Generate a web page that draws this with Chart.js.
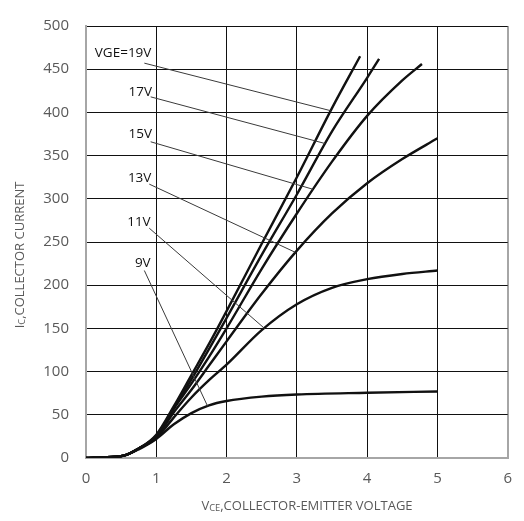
<!DOCTYPE html>
<html>
<head>
<meta charset="utf-8">
<script src="https://cdn.jsdelivr.net/npm/chart.js@4/dist/chart.umd.min.js"></script>
<style>
  html, body { margin: 0; padding: 0; background: #fff; }
  #wrap { width: 524px; height: 521px; }
</style>
</head>
<body>
<div id="wrap"><canvas id="icChart" width="524" height="521"></canvas></div>
<script>
// output characteristics, Ic (A) vs Vce (V), one curve per gate voltage
const gateLabels = ['VGE=19V', '17V', '15V', '13V', '11V', '9V'];

const vce19 = [0, 0.3, 0.55, 0.75, 1.0, 1.25, 1.5, 1.75, 2.0, 2.5, 3.0, 3.5, 3.9];
const ic19  = [0, 1, 3, 11, 27, 60, 96, 132, 170, 248, 325, 405, 465];

const vce17 = [0, 0.3, 0.55, 0.75, 1.0, 1.25, 1.5, 1.75, 2.0, 2.5, 3.0, 3.5, 4.0, 4.17];
const ic17  = [0, 1, 3, 11, 26, 58, 91, 126, 162, 235, 305, 378, 440, 462];

const vce15 = [0, 0.3, 0.55, 0.75, 1.0, 1.25, 1.5, 1.75, 2.0, 2.5, 3.0, 3.5, 4.0, 4.5, 4.78];
const ic15  = [0, 1, 3, 11, 25, 57, 86, 117, 150, 219, 283, 343, 396, 437, 456];

const vce13 = [0, 0.3, 0.55, 0.75, 1.0, 1.25, 1.5, 1.75, 2.0, 2.5, 3.0, 3.5, 4.0, 4.5, 5.0];
const ic13  = [0, 1, 3, 11, 24, 53, 79, 107, 135, 190, 240, 283, 318, 346, 370];

const vce11 = [0, 0.3, 0.55, 0.75, 1.0, 1.25, 1.5, 1.75, 2.0, 2.5, 3.0, 3.5, 4.0, 4.5, 5.0];
const ic11  = [0, 1, 3, 11, 23, 47, 70, 90, 108, 148, 178, 197, 207, 213, 217];

const vce9 = [0, 0.3, 0.55, 0.75, 1.0, 1.25, 1.5, 1.75, 2.0, 2.5, 3.0, 4.0, 5.0];
const ic9  = [0, 1, 3, 10, 22, 39, 52, 61, 66, 71, 73.5, 75.5, 77];

// label anchors (right edge of text) and leader lines: [x0, y0, x1, y1]
const labelX = [0.93, 0.94, 0.94, 0.93, 0.92, 0.92];
const labelY = [468, 424, 375, 324, 273, 226];
const leaders = [
  [0.83, 457, 3.48, 402],
  [0.92, 418, 3.40, 364],
  [0.92, 366, 3.23, 311],
  [0.90, 317, 2.98, 238],
  [0.90, 266, 2.54, 150],
  [0.83, 217, 1.73, 60]
];

const xTicks = [0, 1, 2, 3, 4, 5, 6];
const yTicks = [0, 50, 100, 150, 200, 250, 300, 350, 400, 450, 500];

function pts(xs, ys) {
  return xs.map((x, i) => ({ x: x, y: ys[i] }));
}

const curves = [
  pts(vce19, ic19), pts(vce17, ic17), pts(vce15, ic15),
  pts(vce13, ic13), pts(vce11, ic11), pts(vce9, ic9)
];

const datasets = [];
leaders.forEach(l => {
  datasets.push({
    data: [{ x: l[0], y: l[1] }, { x: l[2], y: l[3] }],
    borderColor: '#3a3a3a',
    borderWidth: 1,
    pointRadius: 0,
    tension: 0
  });
});
curves.forEach(c => {
  datasets.push({
    data: c,
    borderColor: '#111',
    borderWidth: 2.4,
    pointRadius: 0,
    cubicInterpolationMode: 'monotone'
  });
});

const FONT = '"Open Sans", "Noto Sans", sans-serif';
const GRAY = '#595959';

// text with a subscript part: [[text, isSub], ...]
function runWidth(ctx, parts, size) {
  let w = 0;
  parts.forEach(p => {
    ctx.font = (p[1] ? size * 0.72 : size) + 'px ' + FONT;
    w += ctx.measureText(p[0]).width;
  });
  return w;
}
function drawRun(ctx, parts, size, x, y) {
  let cx = x;
  parts.forEach(p => {
    ctx.font = (p[1] ? size * 0.72 : size) + 'px ' + FONT;
    ctx.fillText(p[0], cx, p[1] ? y + size * 0.18 : y);
    cx += ctx.measureText(p[0]).width;
  });
}

const annotate = {
  id: 'annotate',
  afterDatasetsDraw(chart) {
    const ctx = chart.ctx;
    const xs = chart.scales.x, ys = chart.scales.y;
    ctx.save();
    ctx.fillStyle = '#111';
    ctx.font = '13.5px ' + FONT;
    ctx.textAlign = 'right';
    ctx.textBaseline = 'middle';
    gateLabels.forEach((t, i) => {
      ctx.fillText(t, xs.getPixelForValue(labelX[i]), ys.getPixelForValue(labelY[i]));
    });
    ctx.restore();

    // axis titles
    ctx.save();
    ctx.fillStyle = GRAY;
    ctx.textAlign = 'left';
    ctx.textBaseline = 'middle';
    const xt = [['V', false], ['CE', true], [',COLLECTOR-EMITTER VOLTAGE', false]];
    const wx = runWidth(ctx, xt, 13);
    drawRun(ctx, xt, 13, 307 - wx / 2, 506);

    const yt = [['I', false], ['C', true], [',COLLECTOR CURRENT', false]];
    ctx.translate(20, 255);
    ctx.rotate(-Math.PI / 2);
    const wy = runWidth(ctx, yt, 13);
    drawRun(ctx, yt, 13, -wy / 2, 0);
    ctx.restore();
  }
};

new Chart(document.getElementById('icChart'), {
  type: 'line',
  data: { datasets: datasets },
  options: {
    responsive: false,
    animation: false,
    layout: { padding: { top: 13, right: 7, left: 0, bottom: 0 } },
    plugins: { legend: { display: false }, tooltip: { enabled: false } },
    scales: {
      x: {
        type: 'linear',
        min: 0, max: 6,
        afterFit: s => { s.height = 63; },
        afterBuildTicks: s => { s.ticks = xTicks.map(v => ({ value: v })); },
        grid: {
          color: c => (c.tick && (c.tick.value === 0 || c.tick.value === 6)) ? '#a6a6a6' : '#111',
          lineWidth: c => (c.tick && (c.tick.value === 0 || c.tick.value === 6)) ? 2 : 1,
          drawTicks: false
        },
        border: { color: '#a6a6a6', width: 2 },
        ticks: { color: GRAY, font: { family: FONT, size: 15 }, padding: 12 }
      },
      y: {
        type: 'linear',
        min: 0, max: 500,
        afterFit: s => { s.width = 86; },
        afterBuildTicks: s => { s.ticks = yTicks.map(v => ({ value: v })); },
        grid: {
          color: c => (c.tick && c.tick.value === 0) ? '#a6a6a6' : '#111',
          lineWidth: c => (c.tick && c.tick.value === 0) ? 2 : 1,
          drawTicks: false
        },
        border: { color: '#a6a6a6', width: 2 },
        ticks: { color: GRAY, font: { family: FONT, size: 15 }, padding: 17 }
      }
    }
  },
  plugins: [annotate]
});
</script>
</body>
</html>
